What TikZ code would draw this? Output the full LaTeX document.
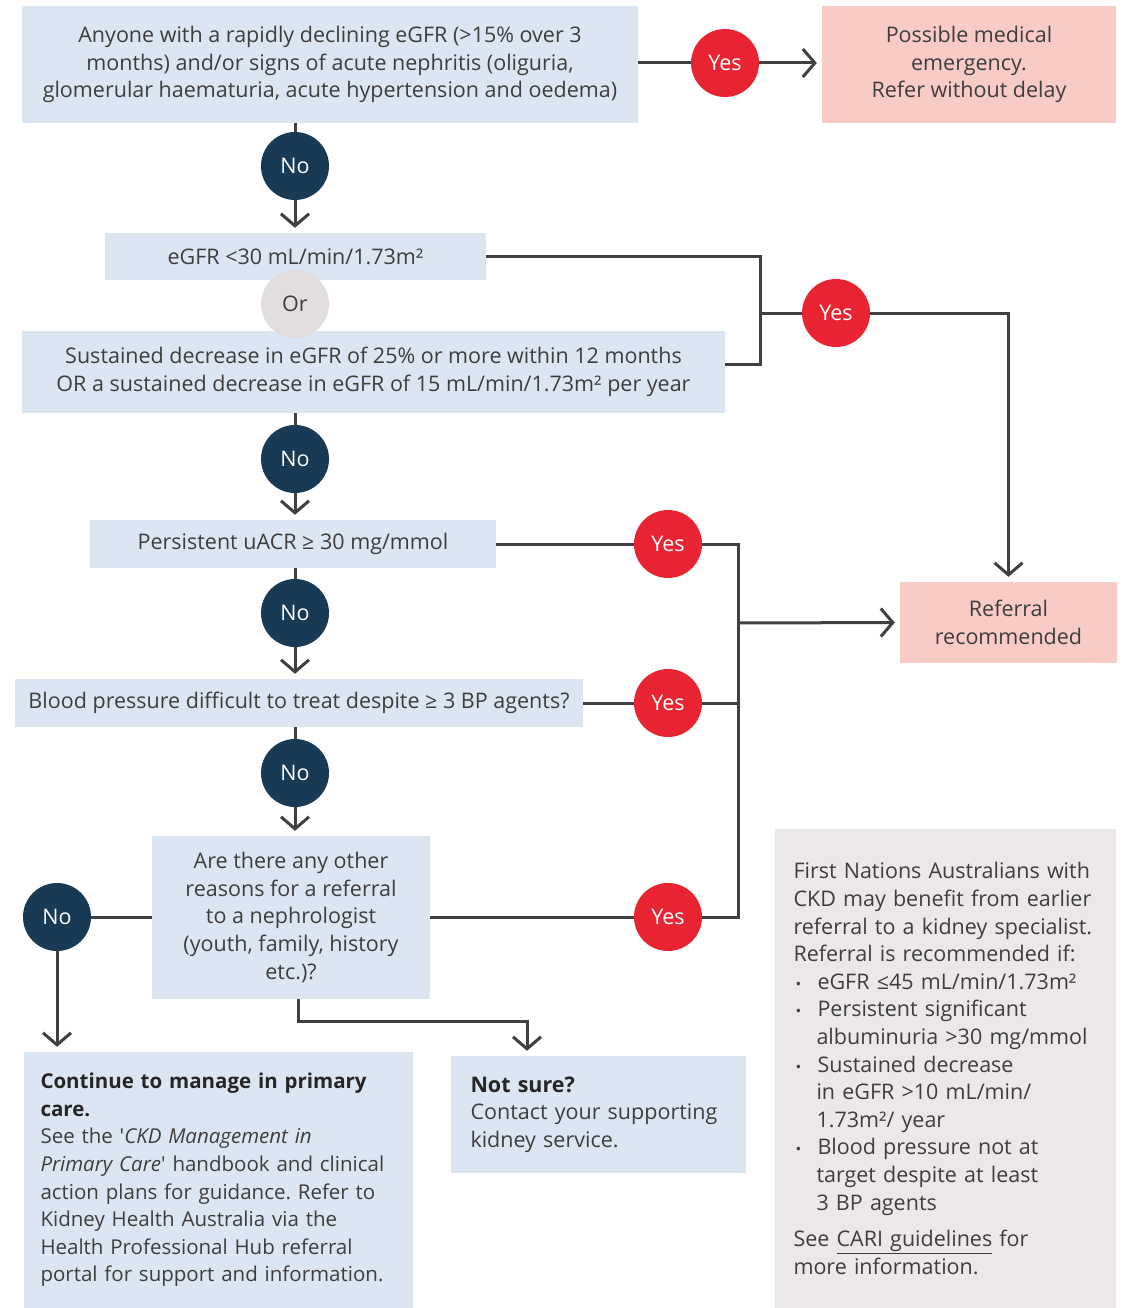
\documentclass[tikz,border=0pt]{standalone}
\usepackage{fontspec}
\setmainfont{Open Sans}
\frenchspacing
\usetikzlibrary{arrows.meta, positioning, calc}
\definecolor{boxblue}{RGB}{220, 230, 242}
\definecolor{boxpink}{RGB}{248, 203, 198}
\definecolor{boxgrey}{RGB}{236, 232, 233}
\definecolor{orgrey}{RGB}{226, 222, 224}
\definecolor{yesred}{RGB}{232, 35, 50}
\definecolor{nonavy}{RGB}{25, 58, 85}
\definecolor{linegrey}{RGB}{64, 64, 64}
\definecolor{textgrey}{RGB}{62, 62, 62}

\begin{document}
\begin{tikzpicture}[
    x=1pt, y=-1pt,
    every node/.style={font=\fontsize{21.5}{27.6}\selectfont, text=textgrey},
    question/.style={rectangle, fill=boxblue, inner sep=0pt, align=center},
    outcome/.style={rectangle, fill=boxpink, inner sep=0pt, align=center},
    yescircle/.style={circle, fill=yesred, minimum size=68pt, inner sep=0pt, text=white},
    nocircle/.style={circle, fill=nonavy, minimum size=68pt, inner sep=0pt, text=white},
    link/.style={draw=linegrey, line width=3pt},
    arrow/.style={link, -{Straight Barb[length=12pt, width=28pt]}, shorten >=5pt}
]

\useasboundingbox[fill=white] (0,0) rectangle (1122,1308);

% Questions
\node[question, minimum width=616pt, minimum height=117pt] (q1) at (330,64.5) {Anyone with a rapidly declining eGFR (>15\% over 3\\months) and/or signs of acute nephritis (oliguria,\\glomerular haematuria, acute hypertension and oedema)};
\node[question, minimum width=381pt, minimum height=47pt] (q2) at (295.5,256.5) {eGFR <30 mL/min/1.73m²};
\node[question, minimum width=703pt, minimum height=82pt] (q3) at (373.5,372) {Sustained decrease in eGFR of 25\% or more within 12 months\\OR a sustained decrease in eGFR of 15 mL/min/1.73m² per year};
\node[question, minimum width=406pt, minimum height=48pt] (q4) at (293,544) {Persistent uACR ≥ 30 mg/mmol};
\node[question, minimum width=568pt, minimum height=48pt] (q5) at (299,703) {Blood pressure difficult to treat despite ≥ 3 BP agents?};
\node[question, minimum width=278pt, minimum height=163pt] (q6) at (291,917.5) {Are there any other\\reasons for a referral\\to a nephrologist\\(youth, family, history\\etc.)?};

% Outcomes
\node[outcome, minimum width=294pt, minimum height=117pt] (emerg) at (969,64.5) {Possible medical\\emergency.\\Refer without delay};
\node[outcome, minimum width=217pt, minimum height=81pt] (refer) at (1008.5,622.5) {Referral\\recommended};
\node[question, minimum width=389pt, minimum height=256pt, text width=356pt, align=left, font=\fontsize{20.5}{27.6}\selectfont] (manage) at (218.5,1180) {%
    \textcolor{black!85}{\textbf{Continue to manage in primary}}\\
    \textcolor{black!85}{\textbf{care.}}\\
    See the \textquotesingle\textit{CKD Management in}\\
    \textit{Primary Care}\textquotesingle{} handbook and clinical\\
    action plans for guidance. Refer to\\
    Kidney Health Australia via the\\
    Health Professional Hub referral\\
    portal for support and information.};
\node[question, minimum width=295pt, minimum height=117pt, text width=256pt, align=left] (notsure) at (598.5,1114.5) {%
    \textcolor{black!85}{\textbf{Not sure?}}\\
    Contact your supporting\\
    kidney service.};

% First Nations note
\node[rectangle, fill=boxgrey, inner sep=0pt, minimum width=341pt, minimum height=479pt, text width=304pt, align=left] (note) at (945.5,1068.5) {%
    First Nations Australians with\\
    CKD may benefit from earlier\\
    referral to a kidney specialist.\\
    Referral is recommended if:\\
    \makebox[24pt][l]{\hspace{2pt}\fontsize{15}{15}\selectfont\textbullet}eGFR ≤45 mL/min/1.73m²\\
    \makebox[24pt][l]{\hspace{2pt}\fontsize{15}{15}\selectfont\textbullet}Persistent significant\\
    \hspace*{23pt}albuminuria >30 mg/mmol\\
    \makebox[24pt][l]{\hspace{2pt}\fontsize{15}{15}\selectfont\textbullet}Sustained decrease\\
    \hspace*{23pt}in eGFR >10 mL/min/\\
    \hspace*{23pt}1.73m²/ year\\
    \makebox[24pt][l]{\hspace{2pt}\fontsize{15}{15}\selectfont\textbullet}Blood pressure not at\\
    \hspace*{23pt}target despite at least\\
    \hspace*{23pt}3 BP agents\\[9pt]
    See \underline{CARI guidelines} for\\
    more information.};

% Yes / No / Or circles
\node[yescircle] (y1) at (725,63) {Yes};
\node[yescircle] (y2) at (836,313) {Yes};
\node[yescircle] (y3) at (668,544) {Yes};
\node[yescircle] (y4) at (668,703) {Yes};
\node[yescircle] (y5) at (668,917) {Yes};
\node[nocircle] (n1) at (295,166) {No};
\node[nocircle] (n2) at (295,459) {No};
\node[nocircle] (n3) at (295,613) {No};
\node[nocircle] (n4) at (295,773) {No};
\node[nocircle] (n5) at (57,917) {No};
\node[circle, fill=orgrey, minimum size=68pt, inner sep=0pt] (or) at (295,304) {Or};

% Junctions
\coordinate (j1) at (760,313);
\coordinate (j2) at (738,623);
\coordinate (j3) at (527,1021);

% Emergency branch
\draw[link] (q1.east |- y1) -- (y1);
\draw[arrow] (y1) -- (emerg.west |- y1);

% Main path
\draw[link] (q1.south -| n1) -- (n1);
\draw[arrow] (n1) -- (n1 |- q2.north);
\draw[link] (q3.south -| n2) -- (n2);
\draw[arrow] (n2) -- (n2 |- q4.north);
\draw[link] (q4.south -| n3) -- (n3);
\draw[arrow] (n3) -- (n3 |- q5.north);
\draw[link] (q5.south -| n4) -- (n4);
\draw[arrow] (n4) -- (n4 |- q6.north);

% eGFR bracket
\draw[link] (q2.east) -| (j1) |- ([yshift=8pt]q3.east);
\draw[link] (j1) -- (y2);
\draw[arrow] (y2) -| (refer.north);

% Right bus to referral
\draw[link] (q4.east |- y3) -- (y3);
\draw[link] (q5.east |- y4) -- (y4);
\draw[link] (q6.east |- y5) -- (y5);
\draw[link] (y3) -| (j2);
\draw[link] (y5) -| (j2);
\draw[link] (y4) -- (y4 -| j2);
\draw[arrow] (j2) -- (refer.west);

% Bottom branches
\draw[link] (q6.west |- n5) -- (n5);
\draw[arrow] (n5) -- (n5 |- manage.north);
\draw[arrow] ([xshift=7pt]q6.south) |- (j3) -- (j3 |- notsure.north);

\end{tikzpicture}
\end{document}
